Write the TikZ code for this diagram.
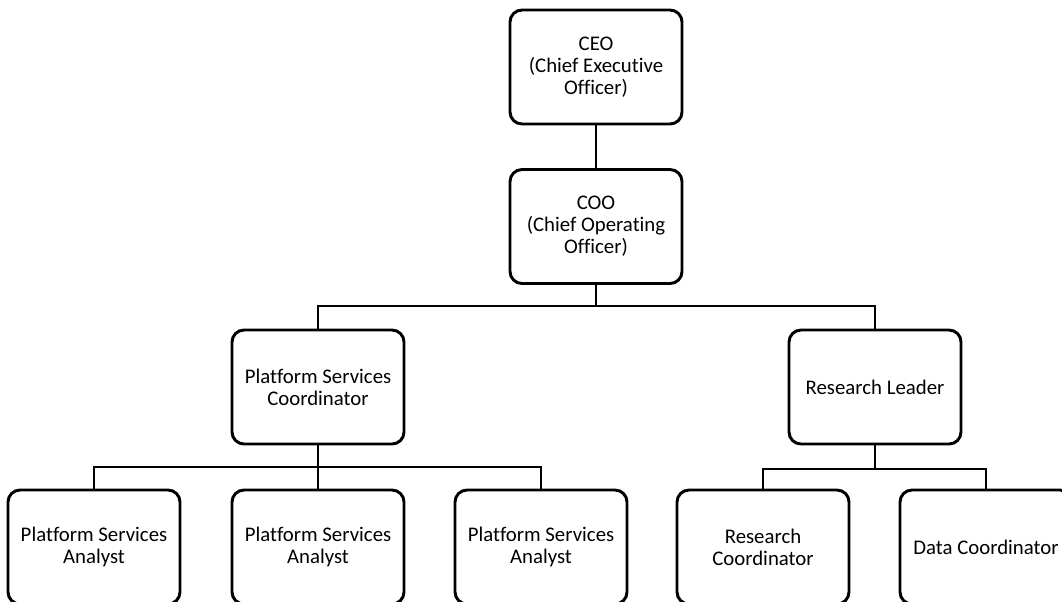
\documentclass[tikz,border=0pt]{standalone}
\usepackage{fontspec}
\setmainfont{Carlito}[Ligatures=NoCommon]
\begin{document}
\begin{tikzpicture}[x=0.75pt,y=-0.75pt,
  role/.style={draw=black, line width=2.2pt, rounded corners=9pt, fill=white,
    minimum width=129pt, minimum height=85.5pt, align=center, inner sep=2pt,
    font=\fontsize{15.6pt}{16.5pt}\selectfont},
  link/.style={line width=2.2pt}]
\useasboundingbox (0,0) rectangle (1062,601);
\clip (0,0) rectangle (1062,601);
\fill[white] (0,0) rectangle (1062,601);

% top of the chart
\node[role] (ceo) at (596,67) {CEO\\(Chief Executive\\Officer)};
\node[role] (coo) at (596,226.5) {COO\\(Chief Operating\\Officer)};

% second level
\node[role] (psc) at (318,387) {Platform Services\\Coordinator};
\node[role] (rl) at (875,387) {Research Leader};

% third level
\node[role] (psa1) at (94,547) {Platform Services\\Analyst};
\node[role] (psa2) at (318,547) {Platform Services\\Analyst};
\node[role] (psa3) at (541,547) {Platform Services\\Analyst};
\node[role] (rc) at (763,547) {Research\\Coordinator};
\node[role] (dc) at (986,547) {Data Coordinator};

% connectors
\coordinate (busA) at (596,306);
\coordinate (busB) at (318,467);
\coordinate (busC) at (875,469);

\draw[link] (ceo.south) -- (coo.north);
\draw[link] (coo.south) -- (busA);
\draw[link] (busA) -| (psc.north);
\draw[link] (busA) -| (rl.north);

\draw[link] (psc.south) -- (busB);
\draw[link] (busB) -| (psa1.north);
\draw[link] (busB) -- (psa2.north);
\draw[link] (busB) -| (psa3.north);

\draw[link] (rl.south) -- (busC);
\draw[link] (busC) -| (rc.north);
\draw[link] (busC) -| (dc.north);
\end{tikzpicture}
\end{document}
